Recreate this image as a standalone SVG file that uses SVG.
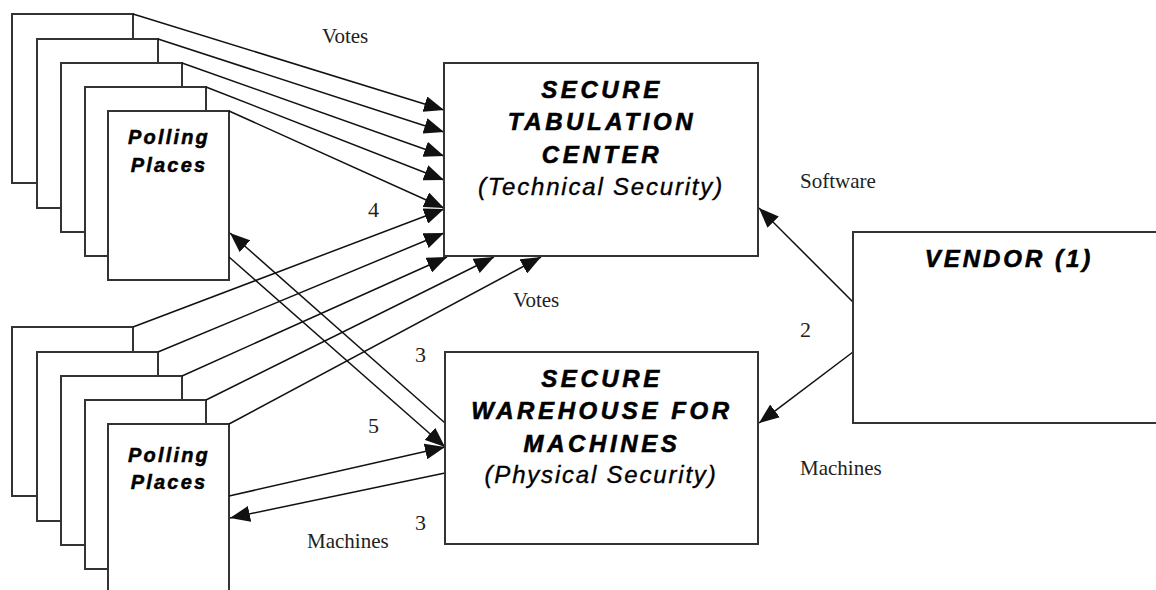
<svg xmlns="http://www.w3.org/2000/svg" width="1156" height="590" viewBox="0 0 1156 590">
<style>
.card{fill:#fff;stroke:#333;stroke-width:2}
.box{fill:#fff;stroke:#333;stroke-width:2}
.ln{fill:none;stroke:#111;stroke-width:1.5}
.arr{marker-end:url(#ah)}
.hd{font-family:"Liberation Sans",Arial,sans-serif;font-weight:bold;font-style:italic;font-size:24px;letter-spacing:3.6px;fill:#000;stroke:#000;stroke-width:0.6;text-anchor:middle}
.vd{letter-spacing:3px}
.sub{font-family:"Liberation Sans",Arial,sans-serif;font-style:italic;font-size:24px;letter-spacing:1.8px;fill:#000;stroke:#000;stroke-width:0.35;text-anchor:middle}
.pp{font-family:"Liberation Sans",Arial,sans-serif;font-weight:bold;font-style:italic;font-size:20px;letter-spacing:2.2px;fill:#000;stroke:#000;stroke-width:0.5;text-anchor:middle}
.lb{font-family:"Liberation Serif","Times New Roman",serif;font-size:21px;fill:#222}
.num{font-family:"Liberation Serif","Times New Roman",serif;font-size:22px;fill:#222}
</style>
<defs>
<marker id="ah" markerUnits="userSpaceOnUse" markerWidth="20" markerHeight="16" refX="20" refY="8" orient="auto">
<path d="M0,0 L20,8 L0,16 z" fill="#111"/>
</marker>
</defs>

<g id="polling-top">
<rect class="card" x="12" y="14" width="121" height="169"/>
<rect class="card" x="37" y="39" width="121" height="169"/>
<rect class="card" x="61" y="63" width="121" height="169"/>
<rect class="card" x="85" y="87" width="121" height="169"/>
<rect class="card" x="108" y="111" width="121" height="169"/>
<text class="pp" x="169" y="144">Polling</text>
<text class="pp" x="169" y="172">Places</text>
</g>

<g id="polling-bottom">
<rect class="card" x="12" y="327" width="121" height="169"/>
<rect class="card" x="37" y="352" width="121" height="169"/>
<rect class="card" x="61" y="376" width="121" height="169"/>
<rect class="card" x="85" y="400" width="121" height="169"/>
<rect class="card" x="108" y="424" width="121" height="169"/>
<text class="pp" x="169" y="462">Polling</text>
<text class="pp" x="169" y="489">Places</text>
</g>

<g id="connectors">
<line class="ln arr" x1="133" y1="14" x2="444" y2="110"/>
<line class="ln arr" x1="158" y1="39" x2="444" y2="132"/>
<line class="ln arr" x1="182" y1="63" x2="444" y2="156"/>
<line class="ln arr" x1="206" y1="87" x2="444" y2="180"/>
<line class="ln arr" x1="229" y1="111" x2="444" y2="208"/>
<line class="ln arr" x1="133" y1="327" x2="444" y2="209"/>
<line class="ln arr" x1="158" y1="352" x2="444" y2="233"/>
<line class="ln arr" x1="182" y1="376" x2="447" y2="257"/>
<line class="ln arr" x1="206" y1="400" x2="494" y2="257"/>
<line class="ln arr" x1="229" y1="424" x2="541" y2="257"/>
<line class="ln arr" x1="445" y1="423" x2="230" y2="233"/>
<line class="ln arr" x1="229" y1="257" x2="445" y2="447"/>
<line class="ln arr" x1="229" y1="496" x2="445" y2="447"/>
<line class="ln arr" x1="445" y1="473" x2="230" y2="518"/>
<line class="ln arr" x1="853" y1="302" x2="759" y2="208"/>
<line class="ln arr" x1="853" y1="352" x2="759" y2="423"/>
<text class="lb" x="322" y="43">Votes</text>
<text class="lb" x="513" y="307">Votes</text>
<text class="lb" x="800" y="188">Software</text>
<text class="lb" x="800" y="475">Machines</text>
<text class="lb" x="307" y="548">Machines</text>
<text class="num" x="368" y="217">4</text>
<text class="num" x="415" y="362">3</text>
<text class="num" x="368" y="433">5</text>
<text class="num" x="415" y="530">3</text>
<text class="num" x="800" y="337">2</text>
</g>

<g id="tabulation-center">
<rect class="box" x="444" y="63" width="314" height="193"/>
<text class="hd" x="602" y="98">SECURE</text>
<text class="hd" x="602" y="130">TABULATION</text>
<text class="hd" x="602" y="163">CENTER</text>
<text class="sub" x="601" y="195">(Technical Security)</text>
</g>

<g id="warehouse">
<rect class="box" x="445" y="352" width="313" height="192"/>
<text class="hd" x="602" y="387">SECURE</text>
<text class="hd" x="602" y="419">WAREHOUSE FOR</text>
<text class="hd" x="602" y="452">MACHINES</text>
<text class="sub" x="601" y="483">(Physical Security)</text>
</g>

<g id="vendor">
<rect class="box" x="853" y="232" width="320" height="191"/>
<text class="hd vd" x="1009" y="267">VENDOR (1)</text>
</g>
</svg>
